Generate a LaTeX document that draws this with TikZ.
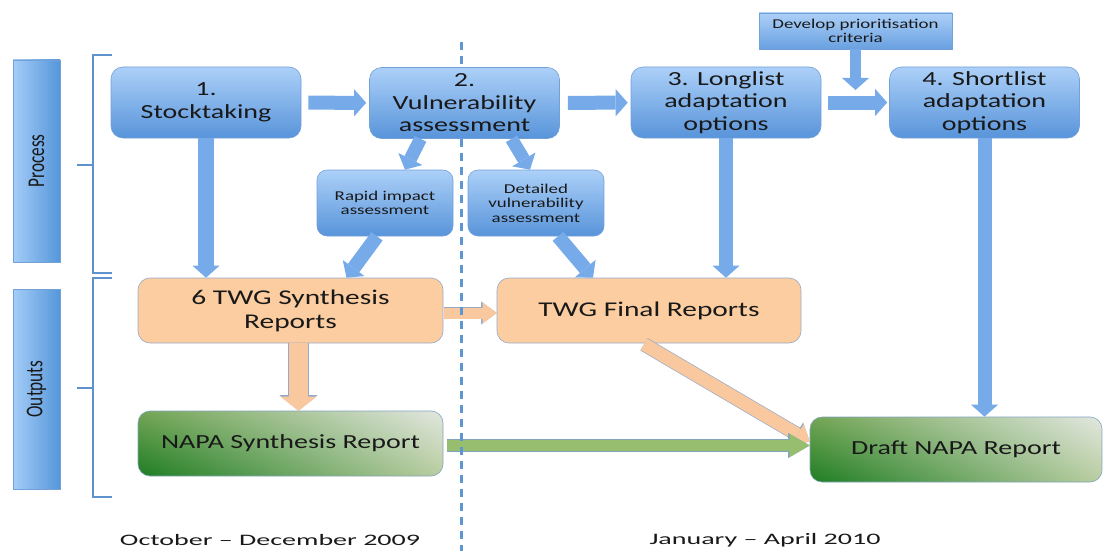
\documentclass[tikz,border=0pt]{standalone}
\usepackage{fontspec}
\setmainfont{Carlito}[FakeStretch=1.4]
\newfontfamily\sidefont{Carlito}[FakeStretch=0.72]
\newfontfamily\datefont{Carlito}[FakeStretch=1.75]
\usetikzlibrary{arrows.meta,calc,shadings}
\definecolor{bluetop}{RGB}{172,208,248}
\definecolor{bluebot}{RGB}{88,148,218}
\definecolor{blueedge}{RGB}{115,160,215}
\definecolor{arrowblue}{RGB}{118,170,232}
\definecolor{peach}{RGB}{251,205,160}
\definecolor{peachar}{RGB}{249,200,158}
\definecolor{peachedge}{RGB}{150,170,200}
\definecolor{gdark}{RGB}{30,125,35}
\definecolor{glight}{RGB}{226,231,224}
\definecolor{gul}{RGB}{115,165,85}
\definecolor{glr}{RGB}{185,205,160}
\definecolor{garrow}{RGB}{150,190,110}
\definecolor{gedge}{RGB}{130,165,190}
\definecolor{dashblue}{RGB}{95,150,210}
\definecolor{bracecol}{RGB}{95,145,205}
\definecolor{txt}{RGB}{25,25,25}
\definecolor{barlight}{RGB}{165,205,248}
\definecolor{bardark}{RGB}{85,150,218}
\tikzset{
  mainbox/.style={rounded corners=12pt, draw=blueedge, line width=0.6pt,
    top color=bluetop, bottom color=bluebot, minimum width=190pt, minimum height=71pt,
    align=center, font=\fontsize{20}{22.5}\selectfont, text=txt, inner sep=0pt},
  subbox/.style={rounded corners=10pt, draw=blueedge, line width=0.6pt,
    top color=bluetop, bottom color=bluebot, minimum width=136pt, minimum height=66pt,
    align=center, font=\fontsize{13.5}{14.5}\selectfont, text=txt, inner sep=0pt},
  devbox/.style={draw=blueedge, line width=0.6pt,
    top color=bluetop, bottom color=bluebot!80!bluetop, minimum width=193pt, minimum height=36pt,
    align=center, font=\fontsize{13.5}{14}\selectfont, text=txt, inner sep=0pt},
  peachbox/.style={rounded corners=12pt, draw=peachedge, line width=0.6pt, fill=peach,
    minimum width=305pt, minimum height=65pt, align=center,
    font=\fontsize{21}{24}\selectfont, text=txt, inner sep=0pt},
  greenbox/.style={rounded corners=12pt, draw=gedge, line width=0.6pt,
    shading=bilinear interpolation, lower left=gdark, upper right=glight,
    upper left=gul, lower right=glr,
    minimum width=305pt, minimum height=65pt, align=center,
    font=\fontsize{20}{22}\selectfont, text=txt, inner sep=0pt},
  sidebar/.style={draw=blueedge, line width=0.6pt, left color=barlight, right color=bardark,
    minimum width=47pt, inner sep=0pt},
  sidetext/.style={rotate=90, font=\sidefont\fontsize{24}{26}\selectfont, text=txt},
  brace/.style={draw=bracecol, line width=1.6pt},
  dashline/.style={draw=dashblue, line width=3pt, dash pattern=on 8pt off 6pt},
  barrow/.style={draw=arrowblue, line width=#1, -{Triangle[width=27pt,length=12pt,line width=0pt]}},
  barrow/.default=14pt,
  parrow/.style={draw=peachar, line width=#1, -{Triangle[width=#1*1.9,length=14pt,line width=0pt]},
    preaction={draw=peachedge, line width=#1+1.4pt, -{Triangle[width=#1*1.9+2pt,length=15.5pt,line width=0pt]}}},
  parrow/.default=18pt,
  garrowst/.style={draw=garrow, line width=11pt, -{Triangle[width=23pt,length=20pt,line width=0pt]},
    preaction={draw=gedge, line width=12.4pt, -{Triangle[width=25pt,length=21.5pt,line width=0pt]}}},
  datestyle/.style={font=\datefont\fontsize{16}{18}\selectfont, text=txt},
}
\begin{document}
\begin{tikzpicture}[x=1pt,y=-1pt]
\useasboundingbox (0,0) rectangle (1103,551);
% side bars
\node[sidebar, minimum height=202pt] (procbar) at (36.5,161) {};
\node[sidetext] (proctext) at (procbar.center) {Process};
\node[sidebar, minimum height=200pt] (outbar) at (36.5,389) {};
\node[sidetext] (outtext) at (outbar.center) {Outputs};
% braces
\draw[brace] (112,55) -- (93,55) -- (93,273) -- (112,273);
\draw[brace] (77,165) -- (93,165);
\draw[brace] (112,278) -- (93,278) -- (93,497) -- (112,497);
\draw[brace] (77,388) -- (93,388);
% process boxes
\node[mainbox] (b1) at (206,102.5) {\raisebox{-5pt}{\begin{tabular}{@{}c@{}}1.\\Stocktaking\end{tabular}}};
\node[mainbox] (b2) at (464.5,103) {2.\\Vulnerability\\assessment};
\node[mainbox] (b3) at (726,102.5) {3. Longlist\\adaptation\\options};
\node[mainbox] (b4) at (984.5,102.5) {4. Shortlist\\adaptation\\options};
\node[devbox] (dev) at (855.5,31) {Develop prioritisation\\criteria};
\node[subbox] (rapid) at (385,203) {Rapid impact\\assessment};
\node[subbox] (detail) at (536,203) {Detailed\\vulnerability\\assessment};
% outputs
\node[peachbox] (syn) at (290.5,310.5) {6 TWG Synthesis\\Reports};
\node[peachbox, minimum width=304pt] (final) at (649,310.5) {TWG Final Reports};
\node[greenbox] (napasyn) at (290.5,443.5) {NAPA Synthesis Report};
\node[greenbox, minimum width=292pt] (draft) at (956,449.5) {Draft NAPA Report};
% dates
\node[datestyle] (d1) at (270,540) {October – December 2009};
\node[datestyle] (d2) at (765,540) {January – April 2010};
% blue arrows
\draw[barrow, shorten <=7pt, shorten >=3pt] (b1) -- (b2);
\draw[barrow, shorten <=8pt, shorten >=3pt] (b2) -- (b3);
\draw[barrow, shorten <=7pt, shorten >=2pt] (b3) -- (b4);
\coordinate (devtip) at (855.5,90);
\draw[barrow=11pt] (dev.south) -- (devtip);
\draw[barrow=16pt] (b1.south) -- (b1.south |- syn.north);
\draw[barrow=14pt] (b3.south) -- (b3.south |- final.north);
\draw[barrow=14pt] (b4.south) -- (b4.south |- draft.north);
\draw[barrow=13pt] ([xshift=-44pt]b2.south) -- ([xshift=20pt]rapid.north);
\draw[barrow=13pt] ([xshift=47pt]b2.south) -- ([xshift=-6pt]detail.north);
\draw[barrow=14pt] ([xshift=-8pt]rapid.south) -- ([xshift=56pt]syn.north);
\draw[barrow=14pt] ([xshift=22pt]detail.south) -- ([xshift=-56pt]final.north);
% peach arrows
\draw[parrow=19pt] ([xshift=8pt]syn.south) -- ([xshift=8pt]napasyn.north);
\draw[parrow=11pt, shorten <=1pt] (syn.east |- 0,313) -- (final.west |- 0,313);
\draw[parrow=13pt] ([xshift=-5pt,yshift=-1pt]final.south) -- ([yshift=-25pt]draft.north west);
% green arrow
\draw[garrowst, shorten <=4pt] (napasyn.east |- 0,445.5) -- (draft.west |- 0,445.5);
% dashed divider
\draw[dashline] (461,42) -- (b2.north -| 461,0);
\draw[dashline] (b2.south -| 461,0) -- (461,551);
\end{tikzpicture}
\end{document}
